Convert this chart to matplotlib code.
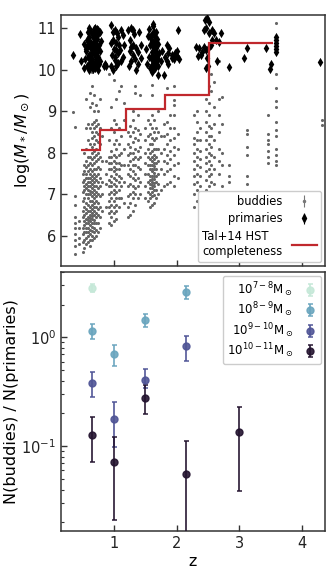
import numpy as np
import matplotlib
matplotlib.use("Agg")
import matplotlib.pyplot as plt

# ---------------- data: buddies (grey), columns of (z, [log M]) ----------------
buddies_low_z = [
    (0.34, [8.99]),
    (0.38, [8.63, 6.95, 6.75, 6.45, 6.3, 6.2, 6.05, 5.9, 5.75, 5.55]),
    (0.44, [6.35, 6.2, 5.95, 5.8]),
    (0.50, [5.62, 5.85, 6.05, 6.2, 6.45, 6.6, 6.85, 7.05, 7.3, 7.5]),
    (0.53, [5.7, 5.9, 6.1, 6.25, 6.35, 6.5, 6.7, 6.9, 7.1, 7.2, 7.35, 7.55, 7.7, 8.0]),
    (0.56, [5.8, 5.95, 6.1, 6.2, 6.3, 6.4, 6.55, 6.65, 6.8, 7.0, 7.15, 7.25, 7.4, 7.5, 7.65, 7.8, 8.1, 8.6, 9.3]),
    (0.59, [5.85, 6.0, 6.1, 6.2, 6.3, 6.38, 6.45, 6.6, 6.75, 6.9, 7.0, 7.1, 7.2, 7.3, 7.4, 7.55, 7.7, 7.9, 8.3, 8.7]),
    (0.62, [5.75, 5.9, 6.05, 6.15, 6.25, 6.35, 6.42, 6.5, 6.6, 6.7, 6.85, 7.0, 7.08, 7.2, 7.3, 7.4, 7.5, 7.6, 7.75, 7.9, 8.2, 8.6, 9.1, 9.45]),
    (0.65, [5.9, 6.0, 6.12, 6.22, 6.3, 6.4, 6.48, 6.55, 6.65, 6.75, 6.85, 6.95, 7.05, 7.15, 7.25, 7.35, 7.45, 7.55, 7.7, 7.85, 8.0, 8.15, 8.35, 8.5, 8.7, 9.2, 9.6, 9.95]),
    (0.68, [5.95, 6.08, 6.2, 6.3, 6.38, 6.5, 6.6, 6.7, 6.8, 6.9, 7.0, 7.1, 7.2, 7.3, 7.4, 7.5, 7.6, 7.75, 7.9, 8.05, 8.2, 8.4, 8.6, 8.75, 9.0, 9.4]),
    (0.71, [6.0, 6.15, 6.3, 6.45, 6.55, 6.7, 6.85, 6.95, 7.05, 7.2, 7.35, 7.45, 7.6, 7.8, 7.95, 8.1, 8.3, 8.5, 8.65, 8.8, 9.15]),
    (0.74, [6.1, 6.3, 6.5, 6.65, 6.8, 7.0, 7.15, 7.3, 7.5, 7.65, 7.85, 8.0, 8.25, 8.45, 8.7, 9.0]),
    (0.77, [6.2, 6.45, 6.7, 6.95, 7.2, 7.4, 7.6, 7.9, 8.2, 8.6, 9.3]),
    (0.81, [6.6, 7.0, 7.3, 7.8, 8.4]),
]
buddies_mid_z = [
    (0.88, [6.7, 7.25, 7.5, 7.8]),
    (0.92, [6.3, 6.55, 6.7, 6.85, 7.0, 7.2, 7.35, 7.6, 7.75, 7.9, 8.3, 9.9]),
    (0.96, [6.25, 6.45, 6.6, 6.75, 6.9, 7.05, 7.2, 7.3, 7.45, 7.6, 7.75, 7.9, 8.05, 8.6, 9.1]),
    (1.00, [6.35, 6.55, 6.7, 6.85, 7.0, 7.1, 7.25, 7.4, 7.55, 7.65, 7.8, 7.95, 8.2, 8.5, 8.8, 9.75]),
    (1.04, [6.4, 6.6, 6.75, 6.9, 7.05, 7.2, 7.35, 7.5, 7.6, 7.75, 7.9, 8.1, 8.3, 8.7, 9.3]),
    (1.08, [6.7, 6.9, 7.1, 7.3, 7.45, 7.6, 7.75, 7.95, 8.2, 8.6, 9.5]),
    (1.12, [6.9, 7.2, 7.4, 7.7, 8.0, 8.4, 9.6]),
    (1.16, [6.8, 7.3, 7.7, 8.1, 8.8, 9.2]),
    (1.22, [6.45, 6.7, 6.95, 7.2, 7.5, 7.7, 7.95, 8.2, 8.5]),
    (1.26, [6.5, 6.8, 7.0, 7.25, 7.45, 7.6, 7.8, 8.0, 8.15, 8.4, 8.65]),
    (1.30, [6.6, 6.9, 7.05, 7.2, 7.4, 7.55, 7.7, 7.85, 8.0, 8.25, 8.5, 8.8, 9.0]),
    (1.34, [6.75, 7.0, 7.15, 7.35, 7.5, 7.7, 7.9, 8.1, 8.35, 8.6, 9.45, 9.6]),
    (1.38, [6.9, 7.2, 7.4, 7.65, 7.85, 8.05, 8.3, 8.55, 8.9]),
    (1.42, [7.0, 7.3, 7.6, 7.9, 8.15, 8.45, 9.4]),
    (1.50, [6.9, 7.2, 7.5, 7.75, 8.0, 8.3, 8.6]),
    (1.54, [6.85, 7.05, 7.3, 7.5, 7.7, 7.9, 8.1, 8.4, 8.8]),
    (1.58, [6.7, 6.9, 7.0, 7.15, 7.25, 7.35, 7.45, 7.6, 7.7, 7.85, 8.0, 8.2, 8.45, 8.7]),
    (1.61, [6.75, 6.95, 7.05, 7.15, 7.22, 7.3, 7.38, 7.45, 7.55, 7.62, 7.7, 7.8, 7.9, 8.05, 8.2, 8.35, 8.6, 8.9, 9.4, 9.63]),
    (1.64, [6.8, 6.98, 7.1, 7.2, 7.28, 7.36, 7.44, 7.52, 7.6, 7.68, 7.76, 7.85, 7.95, 8.1, 8.3, 8.5, 8.8]),
    (1.67, [6.9, 7.1, 7.3, 7.45, 7.6, 7.75, 7.9, 8.1, 8.35, 8.6]),
    (1.71, [7.0, 7.25, 7.5, 7.8, 8.1, 8.5, 9.0]),
    (1.75, [7.1, 7.6, 8.0, 8.4]),
    (1.80, [7.2, 7.5, 7.8, 8.1, 8.4, 8.7]),
    (1.85, [7.25, 7.55, 7.75, 7.95, 8.2, 8.45, 8.75, 9.57]),
    (1.90, [7.3, 7.6, 7.85, 8.05, 8.3, 8.6, 8.9]),
    (1.96, [7.2, 7.45, 7.7, 7.95, 8.15, 8.35, 8.6, 8.9, 9.15, 9.27, 9.6]),
    (2.02, [7.4, 7.75, 8.1, 8.45]),
]
buddies_high_z = [
    (2.28, [6.7, 7.0, 7.25, 7.45, 7.6, 7.8, 8.0, 8.2, 8.35, 8.9]),
    (2.33, [6.85, 7.1, 7.3, 7.5, 7.7, 7.9, 8.1, 8.3, 8.5, 8.75, 9.0]),
    (2.38, [7.0, 7.2, 7.45, 7.65, 7.85, 8.05, 8.3, 8.6]),
    (2.47, [7.1, 7.35, 7.55, 7.75, 7.9, 8.1, 8.3, 8.5, 8.75, 9.0, 9.3]),
    (2.51, [7.0, 7.2, 7.45, 7.6, 7.8, 8.0, 8.2, 8.4, 8.65, 8.9, 9.2, 9.6]),
    (2.55, [7.3, 7.5, 7.7, 7.95, 8.15, 8.4, 8.6, 9.5, 9.9]),
    (2.60, [7.25, 7.6, 7.9, 8.3, 8.7, 9.1, 9.7]),
    (2.67, [7.5, 7.8, 8.1, 8.5, 8.9, 9.3, 10.2]),
    (2.72, [7.2, 7.7, 8.0, 8.7, 9.35]),
    (2.83, [7.3, 7.45, 7.7]),
    (3.12, [7.25, 7.45, 7.95, 8.15, 8.45, 8.55]),
    (3.46, [7.75, 7.9, 8.05, 8.2, 8.3, 8.45, 8.9]),
    (3.58, [7.7, 7.8, 7.95, 8.1, 8.4, 8.55, 8.75, 9.1, 9.25, 9.55, 9.9, 11.12]),
    (4.32, [8.67, 8.8]),
]

# ---------------- data: primaries (black diamonds), (z, log M) pairs ----------------
primaries_low_z = [
    (0.35, 10.36), (0.46, 10.86), (0.47, 10.22),
    (0.53, 10.05), (0.55, 10.5), (0.52, 10.62), (0.54, 10.25),
    (0.57, 10.1), (0.58, 10.3), (0.56, 10.45), (0.59, 10.6), (0.57, 10.72), (0.58, 10.9),
    (0.60, 10.0), (0.61, 10.15), (0.60, 10.35), (0.62, 10.55), (0.61, 10.68), (0.60, 10.8), (0.61, 11.0),
    (0.63, 10.08), (0.64, 10.2), (0.62, 10.3), (0.65, 10.42), (0.63, 10.52), (0.64, 10.65), (0.66, 10.78), (0.63, 10.92),
    (0.66, 10.02), (0.67, 10.12), (0.65, 10.25), (0.68, 10.38), (0.66, 10.5), (0.67, 10.6), (0.69, 10.7), (0.66, 10.85), (0.68, 10.98),
    (0.69, 10.05), (0.70, 10.18), (0.71, 10.3), (0.69, 10.45), (0.70, 10.55), (0.68, 10.68), (0.71, 10.8), (0.70, 10.9), (0.69, 11.0),
    (0.72, 10.1), (0.73, 10.22), (0.72, 10.4), (0.74, 10.5), (0.72, 10.62), (0.73, 10.75), (0.71, 10.88), (0.73, 10.98),
    (0.75, 10.0), (0.76, 10.15), (0.75, 10.3), (0.74, 10.48), (0.76, 10.6), (0.75, 10.85), (0.74, 10.95),
    (0.78, 10.2), (0.77, 10.45), (0.79, 10.7), (0.78, 10.9),
    (0.84, 10.08), (0.86, 10.15), (0.88, 10.1),
    (0.95, 10.08), (0.97, 10.35), (0.96, 10.64), (0.98, 10.9), (0.95, 11.08),
    (0.99, 10.0), (1.01, 10.24), (1.00, 10.5), (0.99, 10.72), (1.01, 10.96),
    (1.03, 10.1), (1.02, 10.3), (1.04, 10.48), (1.03, 10.64), (1.05, 10.88),
    (1.07, 10.16), (1.06, 10.4), (1.08, 10.6), (1.07, 10.8),
    (1.11, 10.2), (1.10, 10.48), (1.12, 10.96),
    (1.15, 10.3), (1.16, 10.6), (1.14, 10.84),
]
primaries_mid_z = [
    (1.24, 10.1), (1.25, 10.45), (1.23, 10.95), (1.27, 10.2), (1.28, 10.55),
    (1.26, 10.72), (1.28, 11.0), (1.31, 10.35), (1.30, 10.6), (1.32, 10.85),
    (1.31, 10.96), (1.35, 10.0), (1.34, 10.25), (1.36, 10.52), (1.39, 10.15),
    (1.38, 10.42), (1.40, 10.9), (1.43, 10.28), (1.44, 10.6),
    (1.53, 10.15), (1.52, 10.5), (1.54, 10.82), (1.57, 10.05), (1.56, 10.3),
    (1.58, 10.6), (1.57, 10.78), (1.56, 10.98),
    (1.60, 9.95), (1.61, 10.12), (1.59, 10.28), (1.60, 10.42), (1.62, 10.55),
    (1.60, 10.7), (1.61, 10.85), (1.62, 11.05),
    (1.63, 10.0), (1.64, 10.1), (1.62, 10.2), (1.63, 10.32), (1.65, 10.45),
    (1.64, 10.58), (1.63, 10.68), (1.65, 10.8), (1.64, 10.92), (1.63, 11.1),
    (1.66, 10.05), (1.67, 10.18), (1.66, 10.3), (1.68, 10.4), (1.67, 10.52),
    (1.66, 10.65), (1.68, 10.75), (1.67, 10.9),
    (1.70, 9.88), (1.71, 10.1), (1.70, 10.25), (1.72, 10.4), (1.71, 10.62),
    (1.75, 10.2), (1.76, 10.45),
    (1.80, 9.87), (1.81, 10.3), (1.84, 10.2), (1.85, 10.6), (1.87, 10.15),
    (1.88, 10.52), (1.86, 10.4), (1.92, 10.28), (1.93, 10.36), (1.96, 10.25),
    (1.97, 10.4), (2.00, 10.32), (2.01, 10.45), (2.03, 10.96), (2.04, 10.25),
]
primaries_high_z = [
    (2.31, 10.56), (2.36, 10.52), (2.35, 10.32), (2.40, 10.44), (2.39, 10.36),
    (2.44, 10.56), (2.43, 10.96), (2.47, 10.48), (2.46, 11.2), (2.47, 11.0),
    (2.47, 10.04), (2.49, 11.24), (2.49, 10.28), (2.50, 10.08), (2.52, 10.56),
    (2.52, 10.88), (2.51, 11.16), (2.55, 10.6), (2.56, 10.72), (2.57, 10.96),
    (2.60, 10.88), (2.63, 10.72), (2.64, 10.2), (2.68, 10.68), (2.71, 10.88),
    (2.84, 10.06), (3.08, 10.28), (3.13, 10.53), (3.43, 10.52), (3.49, 10.02),
    (3.50, 10.15), (3.58, 10.42), (3.58, 10.5), (3.58, 10.58), (3.58, 10.65),
    (3.58, 10.72), (3.58, 10.8), (4.29, 10.18),
]

# ---------------- data: completeness steps ----------------
completeness_edges = [0.48, 0.78, 1.19, 1.81, 2.52, 3.54]
completeness_logm = [8.07, 8.55, 9.06, 9.40, 10.64]

# ---------------- data: bottom panel ----------------
bin_labels = [r'$10^{7-8}\mathrm{M}_\odot$', r'$10^{8-9}\mathrm{M}_\odot$',
              r'$10^{9-10}\mathrm{M}_\odot$', r'$10^{10-11}\mathrm{M}_\odot$']
bin_colors = ['#c5e8d8', '#6aa5be', '#4f5496', '#23132f']
ratio_z = [[0.65], [0.65, 1.0, 1.5, 2.15], [0.65, 1.0, 1.5, 2.15],
           [0.65, 1.0, 1.5, 2.15, 3.0]]
ratio_val = [[2.86], [1.14, 0.71, 1.44, 2.63], [0.383, 0.178, 0.41, 0.83],
             [0.128, 0.071, 0.28, 0.0556, 0.134]]
ratio_lo = [[2.62], [0.965, 0.545, 1.25, 2.25], [0.284, 0.099, 0.34, 0.61],
            [0.071, 0.021, 0.197, 0.005, 0.039]]
ratio_hi = [[3.10], [1.32, 0.86, 1.63, 2.98], [0.48, 0.256, 0.51, 1.03],
            [0.186, 0.122, 0.364, 0.111, 0.227]]


def flatten(cols):
    zs, ms = [], []
    for z, vals in cols:
        zs.extend([z] * len(vals))
        ms.extend(vals)
    return np.array(zs), np.array(ms)


bz, bm = flatten(buddies_low_z + buddies_mid_z + buddies_high_z)
prim = np.array(primaries_low_z + primaries_mid_z + primaries_high_z)
pz, pm = prim[:, 0], prim[:, 1]

plt.rcParams['font.family'] = ['DejaVu Sans']
spine_c = '#333333'

fig = plt.figure(figsize=(3.32, 5.76), dpi=100)
ax1 = fig.add_axes([0.1837, 0.538, 0.7953, 0.436])
ax2 = fig.add_axes([0.1837, 0.078, 0.7953, 0.450], sharex=ax1)

# --- top panel
ax1.scatter(bz, bm, s=5, color='#666666', linewidths=0, zorder=2)
ax1.scatter(pz, pm, s=22, marker='d', color='black', linewidths=0, zorder=3)
ax1.stairs(completeness_logm, completeness_edges, baseline=None,
           color='#c0282d', lw=1.6, zorder=4)

h_b = ax1.errorbar([], [], yerr=[], fmt='o', ms=1.5, color='#777777',
                   ecolor='#777777', elinewidth=0.8, capsize=2, label='buddies')
h_p = ax1.errorbar([], [], yerr=[], fmt='d', ms=4, color='black',
                   elinewidth=0.8, capsize=2, label='primaries')
h_r, = ax1.plot([], [], color='#c0282d', lw=1.6,
                label='Tal+14 HST\ncompleteness')
ax1.legend(handles=[h_b, h_p, h_r], loc='lower right', markerfirst=False,
           fontsize=8.3, frameon=True, fancybox=True, edgecolor='#cccccc',
           framealpha=1, handlelength=2.2, borderaxespad=0.35,
           labelspacing=0.4, borderpad=0.35)

ax1.set_xlim(0.155, 4.37)
ax1.set_ylim(5.27, 11.32)
ax1.set_yticks([6, 7, 8, 9, 10, 11])
ax1.set_ylabel(r'$\log(M_*/M_\odot)$', fontsize=11.5, labelpad=4)
ax1.tick_params(axis='x', labelbottom=False)

# --- bottom panel
for lab, col, z, v, lo, hi in zip(bin_labels, bin_colors, ratio_z, ratio_val,
                                  ratio_lo, ratio_hi):
    v = np.array(v)
    yerr = [v - np.array(lo), np.array(hi) - v]
    ax2.errorbar(z, v, yerr=yerr, fmt='o', ms=5, color=col, ecolor=col,
                 elinewidth=1.3, capsize=1.8, capthick=1.2, label=lab,
                 alpha=0.9, zorder=3)
ax2.set_yscale('log')
ax2.set_ylim(0.0166, 4.0)
ax2.set_xticks([1, 2, 3, 4])
ax2.set_xlabel('z', fontsize=11.5, labelpad=2)
ax2.set_ylabel('N(buddies) / N(primaries)', fontsize=11.5, labelpad=2)
ax2.legend(loc='upper right', markerfirst=False, fontsize=8.5, frameon=True,
           fancybox=True, edgecolor='#cccccc', framealpha=1,
           handlelength=1.2, borderaxespad=0.35, labelspacing=0.15,
           borderpad=0.35)

for ax in (ax1, ax2):
    for s in ax.spines.values():
        s.set_color(spine_c)
        s.set_linewidth(1.1)
    ax.tick_params(which='major', direction='in', length=4, width=1,
                   color=spine_c, labelsize=10.5, labelcolor='#222222')
    ax.tick_params(which='minor', direction='in', length=2.5, width=0.8,
                   color=spine_c)

fig.savefig('out.png', dpi=100)
